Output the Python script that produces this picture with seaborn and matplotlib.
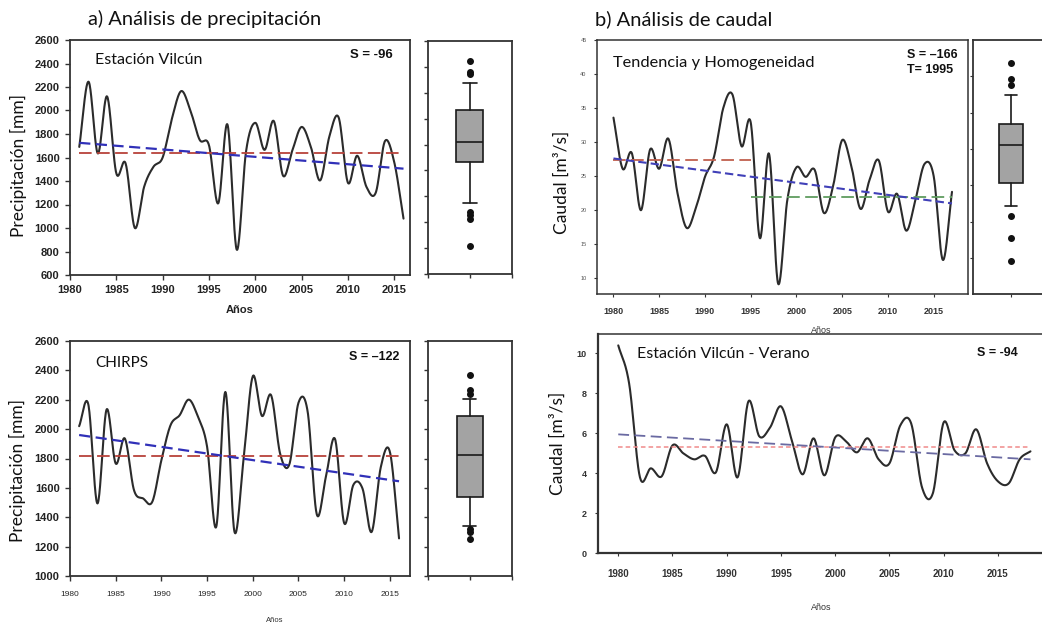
"""Precipitation and streamflow trend panels (Vilcún)."""

import numpy as np
import matplotlib
matplotlib.use("Agg")
import matplotlib.pyplot as plt
import seaborn as sns

# ---- data ----
years_precip = list(range(1981, 2017))
precip_vilcun = [1690, 2245, 1635, 2120, 1465, 1550, 1000, 1350, 1520, 1600,
                 1930, 2165, 2000, 1750, 1705, 1210, 1880, 815, 1650, 1895,
                 1665, 1910, 1445, 1660, 1860, 1690, 1405, 1780, 1940, 1385,
                 1615, 1350, 1300, 1740, 1560, 1080]
precip_chirps = [2020, 2169, 1494, 2133, 1766, 1936, 1585, 1528, 1505, 1789,
                 2027, 2095, 2201, 2083, 1880, 1335, 2253, 1300, 1800, 2360,
                 2090, 2231, 1830, 1760, 2180, 2120, 1420, 1675, 1932, 1360,
                 1620, 1596, 1300, 1740, 1845, 1256]

years_caudal = list(range(1980, 2018))
caudal_anual = [33.6, 26.1, 28.4, 20.0, 28.9, 26.1, 30.5, 22.5, 17.4, 20.3,
                24.9, 27.9, 35.0, 37.0, 29.4, 32.9, 15.9, 28.3, 9.2, 21.5,
                26.3, 24.9, 25.9, 19.6, 23.5, 30.3, 26.5, 20.2, 24.5, 27.3,
                19.8, 22.4, 17.0, 21.5, 26.8, 25.0, 12.7, 22.7]

years_verano = list(range(1980, 2019))
caudal_verano = [10.4, 8.5, 3.8, 4.25, 3.85, 5.4, 5.0, 4.7, 4.87, 4.05,
                 6.45, 3.8, 7.6, 5.85, 6.3, 7.35, 5.65, 3.95, 5.75, 3.9,
                 5.8, 5.6, 5.05, 5.75, 4.7, 4.5, 6.4, 6.5, 3.3, 3.0,
                 6.55, 5.15, 5.0, 6.2, 4.5, 3.6, 3.5, 4.7, 5.1]

# mean levels and trend end values (start year, end year)
vilcun_mean = 1635
vilcun_trend = [1725, 1505]
chirps_mean = 1820
chirps_trend = [1960, 1645]
caudal_mean_before = 27.4   # 1980-1995
caudal_mean_after = 22.0    # 1995-2017
caudal_break_year = 1995
caudal_trend = [27.6, 21.0]
verano_mean = 5.33
verano_trend = [5.95, 4.7]

# box plot summaries: median, q1, q3, whisker low, whisker high, fliers
box_vilcun = dict(med=1817, q1=1663, q3=2066, whislo=1347, whishi=2272,
                  fliers=[2446, 2361, 2341, 1282, 1257, 1226, 1018])
box_chirps = dict(med=1827, q1=1539, q3=2088, whislo=1342, whishi=2208,
                  fliers=[2367, 2265, 2237, 1320, 1297, 1249])
box_caudal = dict(med=30.5, q1=25.3, q3=33.5, whislo=22.1, whishi=37.4,
                  fliers=[41.9, 39.7, 38.8, 20.8, 17.7, 14.6])

W, H = 1042, 622
TXT = ["Lato", "DejaVu Sans"]
NUM = ["Liberation Sans", "DejaVu Sans"]
CURVE = "#2b2b2b"
SPINE = "#333333"


def px_axes(fig, left, top, right, bottom):
    """Add axes from pixel edges of the 1042x622 canvas."""
    return fig.add_axes([left / W, 1 - bottom / H, (right - left) / W, (bottom - top) / H])


def smooth(x, y, n=24):
    """Catmull-Rom curve through the yearly points (drawing only)."""
    x = np.asarray(x, float)
    y = np.asarray(y, float)
    yp = np.concatenate([[2 * y[0] - y[1]], y, [2 * y[-1] - y[-2]]])
    t = np.linspace(0, 1, n, endpoint=False)
    xs, ys = [], []
    for i in range(len(x) - 1):
        p0, p1, p2, p3 = yp[i:i + 4]
        ys.append(0.5 * (2 * p1 + (p2 - p0) * t + (2 * p0 - 5 * p1 + 4 * p2 - p3) * t ** 2
                         + (3 * p1 - p0 - 3 * p2 + p3) * t ** 3))
        xs.append(x[i] + (x[i + 1] - x[i]) * t)
    xs.append([x[-1]])
    ys.append([y[-1]])
    return np.concatenate(xs), np.concatenate(ys)


def style_axes(ax, lw=1.3):
    for s in ax.spines.values():
        s.set_linewidth(lw)
        s.set_color(SPINE)
        s.set_visible(True)


def draw_series(ax, years, values):
    xs, ys = smooth(years, values)
    sns.lineplot(x=xs, y=ys, ax=ax, color=CURVE, lw=1.5, estimator=None, sort=False)


def draw_box(ax, stats, width, ylim, yticks, xticks):
    ax.bxp([stats], positions=[1], widths=width, patch_artist=True,
           boxprops=dict(facecolor="#a3a3a3", edgecolor="#1a1a1a", linewidth=1.2),
           medianprops=dict(color="#1a1a1a", linewidth=1.2),
           whiskerprops=dict(color="#1a1a1a", linewidth=1.2),
           capprops=dict(color="#1a1a1a", linewidth=1.2),
           flierprops=dict(marker="o", markerfacecolor="#111111", markeredgecolor="#111111",
                           markersize=4))
    ax.set_xlim(0, 2)
    ax.set_ylim(*ylim)
    ax.set_yticks(yticks)
    ax.set_xticks(xticks)
    ax.set_yticklabels([])
    ax.set_xticklabels([])
    ax.tick_params(direction="out", length=3, width=1, color=SPINE)
    style_axes(ax)


sns.set_style("ticks")
plt.rcParams["font.family"] = NUM

fig = plt.figure(figsize=(W / 100, H / 100), dpi=100)

# ---------------- panel titles ----------------
fig.text(88 / W, 1 - 19 / H, "a) Análisis de precipitación", family=TXT,
         fontsize=14.5, va="center", ha="left", color="#111111")
fig.text(595 / W, 1 - 19 / H, "b) Análisis de caudal", family=TXT,
         fontsize=14.5, va="center", ha="left", color="#111111")

# ---------------- a) precipitation ----------------
# top-left: Estación Vilcún
ax1 = px_axes(fig, 70, 40, 410, 275)
draw_series(ax1, years_precip, precip_vilcun)
ax1.plot([years_precip[0], years_precip[-1]], [vilcun_mean, vilcun_mean],
         color="#b8423a", lw=1.3, ls=(0, (7, 3)))
ax1.plot([years_precip[0], years_precip[-1]], vilcun_trend,
         color="#3030b8", lw=1.6, ls=(0, (5, 2.5)))
ax1.set_xlim(1980, 2016.7)
ax1.set_ylim(600, 2600)
ax1.set_xticks(range(1980, 2016, 5))
ax1.set_yticks(range(600, 2601, 200))
ax1.tick_params(direction="out", length=3.5, width=1, color=SPINE, labelsize=8, pad=4)
for lab in ax1.get_xticklabels() + ax1.get_yticklabels():
    lab.set_fontweight("bold")
    lab.set_color("#222222")
ax1.set_xlabel("Años", fontsize=8, fontweight="bold", color="#222222")
ax1.xaxis.set_label_coords(0.5, -(310 - 275) / 235 + 0.02)
ax1.set_ylabel("Precipitación [mm]", family=TXT, fontsize=12.5, color="#111111")
ax1.yaxis.set_label_coords(-0.125, 0.464)
ax1.text((95 - 70) / 340, (275 - 60) / 235, "Estación Vilcún", transform=ax1.transAxes,
         family=TXT, fontsize=11.5, va="center", ha="left", color="#111111")
ax1.text((393 - 70) / 340, (275 - 55) / 235, "S = -96", transform=ax1.transAxes,
         fontsize=9.5, fontweight="bold", va="center", ha="right", color="#111111")
style_axes(ax1)

box1 = px_axes(fig, 427.7, 40.7, 512, 274.3)
draw_box(box1, box_vilcun, 0.64, (800, 2600), range(800, 2601, 200), [0, 1, 2])

# bottom-left: CHIRPS
ax2 = px_axes(fig, 70, 341, 410, 576)
draw_series(ax2, years_precip, precip_chirps)
ax2.plot([years_precip[0], years_precip[-1]], [chirps_mean, chirps_mean],
         color="#b8423a", lw=1.3, ls=(0, (7, 3)))
ax2.plot([years_precip[0], years_precip[-1]], chirps_trend,
         color="#3030b8", lw=1.6, ls=(0, (5, 2.5)))
ax2.set_xlim(1980, 2017.2)
ax2.set_ylim(1000, 2600)
ax2.set_xticks(range(1980, 2016, 5))
ax2.set_yticks(range(1000, 2601, 200))
ax2.tick_params(direction="out", length=3.5, width=1, color=SPINE, pad=4)
ax2.tick_params(axis="y", labelsize=8)
ax2.tick_params(axis="x", labelsize=6, pad=7)
for lab in ax2.get_yticklabels():
    lab.set_fontweight("bold")
    lab.set_color("#222222")
ax2.set_xlabel("Años", fontsize=5.5, color="#333333")
ax2.xaxis.set_label_coords((275 - 70) / 340, -(617 - 576) / 235)
ax2.set_ylabel("Precipitación [mm]", family=TXT, fontsize=12.5, color="#111111")
ax2.yaxis.set_label_coords(-0.13, 0.447)
ax2.text((95 - 70) / 340, (576 - 363) / 235, "CHIRPS", transform=ax2.transAxes,
         family=TXT, fontsize=11, va="center", ha="left", color="#111111")
ax2.text((399 - 70) / 340, (576 - 357) / 235, "S = –122", transform=ax2.transAxes,
         fontsize=9, fontweight="bold", va="center", ha="right", color="#111111")
style_axes(ax2)

box2 = px_axes(fig, 427.7, 341, 511.7, 576)
draw_box(box2, box_chirps, 0.61, (1000, 2600), range(1000, 2601, 200), [0, 1, 2])

# ---------------- b) streamflow ----------------
# top-right: annual flow with break point
ax3 = px_axes(fig, 597, 40, 968, 294.3)
draw_series(ax3, years_caudal, caudal_anual)
ax3.plot([years_caudal[0], caudal_break_year], [caudal_mean_before] * 2,
         color="#c0604e", lw=1.3, ls=(0, (7, 3)))
ax3.plot([caudal_break_year, years_caudal[-1]], [caudal_mean_after] * 2,
         color="#5f9c5f", lw=1.3, ls=(0, (7, 3)))
ax3.plot([years_caudal[0], years_caudal[-1]], caudal_trend,
         color="#4040b8", lw=1.5, ls=(0, (4, 2)))
ax3.set_xlim(1978.2, 2018.75)
ax3.set_ylim(7.65, 45)
ax3.set_xticks(range(1980, 2016, 5))
ax3.set_yticks(range(10, 46, 5))
ax3.tick_params(direction="out", length=2.5, width=0.8, color=SPINE)
ax3.tick_params(axis="y", labelsize=4, labelcolor="#555555", pad=5)
ax3.tick_params(axis="x", labelsize=6.5, pad=7)
for lab in ax3.get_xticklabels():
    lab.set_fontweight("bold")
    lab.set_color("#333333")
ax3.set_xlabel("Años", fontsize=6.5, color="#333333")
ax3.xaxis.set_label_coords((821 - 597) / 371, -(326 - 294.3) / 254.3)
ax3.set_ylabel("Caudal [m³/s]", family=TXT, fontsize=12.5, color="#111111")
ax3.yaxis.set_label_coords(-0.073, 0.44)
ax3.text((613 - 597) / 371, (294.3 - 63) / 254.3, "Tendencia y Homogeneidad",
         transform=ax3.transAxes, family=TXT, fontsize=11.8, va="center", ha="left",
         color="#111111")
ax3.text((907 - 597) / 371, (294.3 - 55) / 254.3, "S = –166", transform=ax3.transAxes,
         fontsize=9, fontweight="bold", va="center", ha="left", color="#111111")
ax3.text((907 - 597) / 371, (294.3 - 70) / 254.3, "T= 1995", transform=ax3.transAxes,
         fontsize=9, fontweight="bold", va="center", ha="left", color="#111111")
style_axes(ax3, lw=1.1)

box3 = px_axes(fig, 973.3, 40, 1049, 294.3)
draw_box(box3, box_caudal, 0.62, (10, 45), range(15, 41, 5), [1])
box3.tick_params(length=2.5, width=0.8)

# bottom-right: summer flow
ax4 = px_axes(fig, 598.3, 334, 1050, 553.3)
draw_series(ax4, years_verano, caudal_verano)
ax4.plot([years_verano[0], years_verano[-1]], [verano_mean] * 2,
         color="#f08a8a", lw=1.1, ls=(0, (3, 2)))
ax4.plot([years_verano[0], years_verano[-1]], verano_trend,
         color="#6a6aa2", lw=1.3, ls=(0, (6, 3)))
ax4.set_xlim(1978.16, 2019.8)
ax4.set_ylim(0, 10.97)
ax4.set_xticks(range(1980, 2016, 5))
ax4.set_yticks(range(0, 11, 2))
ax4.tick_params(direction="out", length=2.5, width=0.8, color=SPINE)
ax4.tick_params(axis="y", labelsize=6.5, pad=6)
ax4.tick_params(axis="x", labelsize=7, pad=9)
for lab in ax4.get_xticklabels() + ax4.get_yticklabels():
    lab.set_fontweight("bold")
    lab.set_color("#333333")
ax4.set_xlabel("Años", fontsize=6.5, color="#333333")
ax4.xaxis.set_label_coords((821 - 598.3) / 451.7, -(603 - 553.3) / 219.3)
ax4.set_ylabel("Caudal [m³/s]", family=TXT, fontsize=12.5, color="#111111")
ax4.yaxis.set_label_coords(-0.0715, 0.50)
ax4.text((637 - 598.3) / 451.7, (553.3 - 354) / 219.3, "Estación Vilcún - Verano",
         transform=ax4.transAxes, family=TXT, fontsize=11.5, va="center", ha="left",
         color="#111111")
ax4.text((1018 - 598.3) / 451.7, (553.3 - 353) / 219.3, "S = -94", transform=ax4.transAxes,
         fontsize=9, fontweight="bold", va="center", ha="right", color="#111111")
style_axes(ax4, lw=1.1)
ax4.spines["bottom"].set_linewidth(1.6)
ax4.spines["left"].set_linewidth(1.6)

fig.savefig("out.png", dpi=100)
plt.close(fig)
